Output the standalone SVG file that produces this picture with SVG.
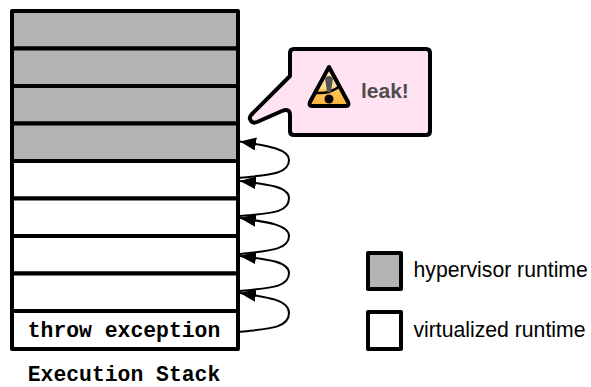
<svg xmlns="http://www.w3.org/2000/svg" width="591" height="387" viewBox="0 0 591 387">
<defs>
<marker id="ah" markerUnits="userSpaceOnUse" markerWidth="18" markerHeight="14" refX="16" refY="6.5" orient="auto"><path d="M0,0 L16,6.5 L0,13 Z" fill="#000"/></marker>
<linearGradient id="warn" x1="0" y1="0" x2="0" y2="1"><stop offset="0" stop-color="#fff0c4"/><stop offset="0.55" stop-color="#fbdc8e"/><stop offset="0.56" stop-color="#fdc65a"/><stop offset="1" stop-color="#ffb23c"/></linearGradient>
</defs>
<style>
.cell{stroke:#000;stroke-width:4;stroke-linejoin:round}
.g{fill:#b3b3b3}
.w{fill:#fff}
.conn{fill:none;stroke:#000;stroke-width:2;marker-end:url(#ah)}
.mono{font-family:"Liberation Mono",monospace;font-weight:bold;font-size:21.4px;fill:#000}
.sans{font-family:"Liberation Sans",Arial,sans-serif;font-size:21.2px;fill:#000}
</style>
<g id="stack">
<rect class="cell g" x="12" y="11" width="226" height="37.5"/>
<rect class="cell g" x="12" y="48.5" width="226" height="37.5"/>
<rect class="cell g" x="12" y="86" width="226" height="37.5"/>
<rect class="cell g" x="12" y="123.5" width="226" height="37.5"/>
<rect class="cell w" x="12" y="161" width="226" height="37.5"/>
<rect class="cell w" x="12" y="198.5" width="226" height="37.5"/>
<rect class="cell w" x="12" y="236" width="226" height="37.5"/>
<rect class="cell w" x="12" y="273.5" width="226" height="37.5"/>
<rect class="cell w" x="12" y="311" width="226" height="38"/>
<text class="mono" x="124" y="337" text-anchor="middle">throw exception</text>
<text class="mono" x="124" y="380.5" text-anchor="middle">Execution Stack</text>
</g>
<g id="connectors">
<path class="conn" d="M238,178 C262,175 289,176 289,160 C289,149 268,146 240,141.5"/>
<path class="conn" d="M240,216 C264,213 289,215 289,198 C289,187 268,184 240,181"/>
<path class="conn" d="M240,254 C264,251 289,251 289,236 C289,225 268,222 240,218"/>
<path class="conn" d="M240,291 C264,288 289,289 289,273 C289,262 268,259 240,256"/>
<path class="conn" d="M238,332 C262,329 289,330 289,313 C289,300 268,297 240,293"/>
</g>
<g id="callout">
<path d="M294,49 H426 Q430,49 430,53 V131 Q430,135 426,135 H294 Q290,135 290,131 V115 Q290,108 282,111 L257,122 Q252,124 250,119 Q249,117 252,114 L290,76 V53 Q290,49 294,49 Z" fill="#ffe3f2" stroke="#000" stroke-width="4" stroke-linejoin="round"/>
<path d="M329,67 L348,102 Q349.500,106 346,106 H312 Q308.500,106 310,102 Z" fill="url(#warn)" stroke="#000" stroke-width="4" stroke-linejoin="round"/>
<path d="M316,93 Q330,94 340,86" fill="none" stroke="#000" stroke-width="2.500"/>
<path d="M325,78 Q329,74 333,78 L331,92 H327 Z" fill="#555"/>
<circle cx="329" cy="99" r="4.500" fill="#000"/>
<text x="361" y="98" font-family="Liberation Sans, Arial, sans-serif" font-weight="bold" font-size="21" fill="#4d4d4d">leak!</text>
</g>
<g id="legend-hypervisor">
<rect class="cell g" x="368" y="253" width="33" height="36"/>
<text class="sans" x="413.500" y="277">hypervisor runtime</text>
</g>
<g id="legend-virtualized">
<rect class="cell w" x="368" y="312" width="33" height="37"/>
<text class="sans" x="413.500" y="337">virtualized runtime</text>
</g>
</svg>
